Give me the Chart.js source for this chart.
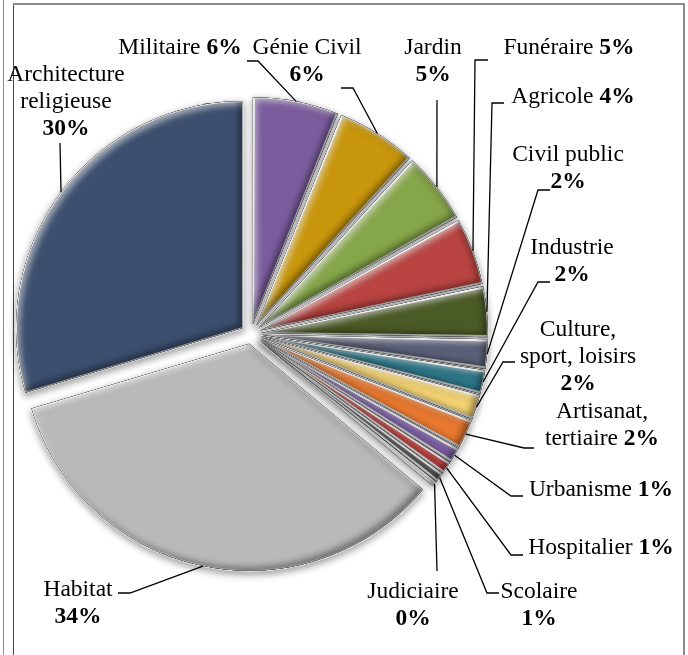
<!DOCTYPE html>
<html>
<head>
<meta charset="utf-8">
<script src="https://cdn.jsdelivr.net/npm/chart.js@4.4.0/dist/chart.umd.min.js"></script>
<style>
  body { margin: 0; background: #fff; }
  #wrap { width: 688px; height: 655px; }
</style>
</head>
<body>
<div id="wrap"><canvas id="chart" width="688" height="655"></canvas></div>
<script>
// data (percent of projects by type), clockwise from 12 o'clock
const categories = [
  "Militaire", "Génie Civil", "Jardin", "Funéraire", "Agricole",
  "Civil public", "Industrie", "Culture, sport, loisirs", "Artisanat, tertiaire",
  "Urbanisme", "Hospitalier", "Scolaire", "Judiciaire", "Habitat",
  "Architecture religieuse"
];
const values = [6.1, 5.7, 5.1, 4.8, 3.6, 2.1, 1.7, 1.8, 2.1, 1.1, 0.9, 0.7, 0.4, 34.3, 29.6];

const colors = [
  "#7b5d9e", "#c9970c", "#86a64a", "#b94441", "#4b5b26",
  "#5b6079", "#2d7688", "#f2d272", "#e8782f", "#7c5fa5",
  "#b83a39", "#4a4a4a", "#d39495", "#b9b9b9", "#3c4f6f"
];

// label layout: centre of first text line, words per line, percent on its own line?,
// leader line points on the label side (slice side comes from the arc)
const labelLayout = [
  { x: 180, y: 48, wrap: [1], pctLine: false, leader: [[258, 61], [247, 61]] },
  { x: 307, y: 48, wrap: [2], pctLine: true, leader: [[353, 88], [341, 88]] },
  { x: 433, y: 48, wrap: [1], pctLine: true, leader: [[437, 100]] },
  { x: 569, y: 48, wrap: [1], pctLine: false, leader: [[475, 60], [488, 60]] },
  { x: 573, y: 97, wrap: [1], pctLine: false, leader: [[492, 103], [504, 103]] },
  { x: 568, y: 155, wrap: [2], pctLine: true, leader: [[538, 190], [550, 190]] },
  { x: 572, y: 248, wrap: [1], pctLine: true, leader: [[538, 282], [550, 282]] },
  { x: 578, y: 330, wrap: [1, 2], pctLine: true, leader: [[503, 362], [515, 362]] },
  { x: 602, y: 412, wrap: [1, 1], pctLine: false, leader: [[524, 448], [534, 448]] },
  { x: 601, y: 490, wrap: [1], pctLine: false, leader: [[511, 496], [523, 496]] },
  { x: 601, y: 548, wrap: [1], pctLine: false, leader: [[511, 555], [523, 555]] },
  { x: 539, y: 592, wrap: [1], pctLine: true, leader: [[487, 593], [499, 593]] },
  { x: 413, y: 592, wrap: [1], pctLine: true, leader: [[437, 571]] },
  { x: 78, y: 590, wrap: [1], pctLine: true, leader: [[130, 593], [118, 593]] },
  { x: 66, y: 75, wrap: [1, 1], pctLine: true, leader: [[60, 143]] }
];

const RADIUS = 227;
const EXPLODE = 40;            // chart.js moves a slice by offset / 4
const FONT = '23.5px "Liberation Serif"';
const BOLD = 'bold 23.5px "Liberation Serif"';
const LINE_H = 27;

const framePlugin = {
  id: "frame",
  beforeDraw(chart) {
    const c = chart.ctx;
    c.save();
    c.fillStyle = "#fff";
    c.fillRect(0, 0, chart.width, chart.height);
    c.strokeStyle = "#8c8c8c";
    c.lineWidth = 1;
    c.beginPath(); c.moveTo(3.5, 0); c.lineTo(3.5, 655); c.stroke();
    c.strokeStyle = "#444";
    c.beginPath(); c.moveTo(13.5, 4); c.lineTo(13.5, 655); c.stroke();
    c.strokeStyle = "#8c8c8c";
    c.lineWidth = 2;
    c.beginPath(); c.moveTo(13, 4); c.lineTo(684, 4); c.lineTo(684, 655); c.stroke();
    c.restore();
  }
};

function slicePath(c, el) {
  const off = EXPLODE / 4;
  const mid = (el.startAngle + el.endAngle) / 2;
  const cx = el.x + Math.cos(mid) * off;
  const cy = el.y + Math.sin(mid) * off;
  c.moveTo(cx, cy);
  c.arc(cx, cy, RADIUS, el.startAngle, el.endAngle);
  c.closePath();
}

function innerShadow(c, el, color, dx, dy, blur) {
  c.save();
  c.beginPath();
  slicePath(c, el);
  c.clip();
  c.beginPath();
  c.rect(-2000, -2000, 5000, 5000);
  slicePath(c, el);
  c.shadowColor = color;
  c.shadowBlur = blur;
  c.shadowOffsetX = dx;
  c.shadowOffsetY = dy;
  c.fillStyle = "#000";
  c.fill("evenodd");
  c.restore();
}

// keep every slice the same drawn radius (chart.js grows small exploded slices)
const radiusFix = {
  id: "radiusFix",
  afterDatasetUpdate(chart, args) {
    const off = EXPLODE / 4;
    args.meta.data.forEach(el => {
      const fix = 1 - Math.sin(Math.min(Math.PI, el.circumference || 0));
      el.outerRadius = RADIUS - off * fix;
    });
  },
  beforeDatasetDraw(chart) {
    const c = chart.ctx;
    c.save();
    c.shadowColor = "rgba(0,0,0,0.35)";
    c.shadowBlur = 7;
    c.shadowOffsetY = 3;
  },
  afterDatasetDraw(chart, args) {
    const c = chart.ctx;
    c.restore();
    // bevel look: light top-left edges, dark bottom-right edges
    args.meta.data.forEach(el => {
      innerShadow(c, el, "rgba(255,255,255,0.55)", 4, 4, 6);
      innerShadow(c, el, "rgba(0,0,0,0.35)", -4, -4, 6);
    });
  }
};

const labelPlugin = {
  id: "labels",
  afterDatasetsDraw(chart) {
    const c = chart.ctx;
    const meta = chart.getDatasetMeta(0);
    const total = values.reduce((a, b) => a + b, 0);
    const off = EXPLODE / 4;
    c.save();
    c.fillStyle = "#000";
    c.strokeStyle = "#000";
    c.lineWidth = 1.3;
    c.textBaseline = "middle";
    meta.data.forEach((el, i) => {
      const L = labelLayout[i];
      const mid = (el.startAngle + el.endAngle) / 2;
      const px = el.x + Math.cos(mid) * (RADIUS + off);
      const py = el.y + Math.sin(mid) * (RADIUS + off);
      // leader
      c.beginPath();
      c.moveTo(px, py);
      L.leader.forEach(p => c.lineTo(p[0], p[1]));
      c.stroke();
      // text lines
      const pct = Math.round(values[i] / total * 100) + "%";
      const words = categories[i].split(" ");
      const lines = [];
      let k = 0;
      L.wrap.forEach(n => { lines.push([{ t: words.slice(k, k + n).join(" "), b: false }]); k += n; });
      if (L.pctLine) lines.push([{ t: pct, b: true }]);
      else lines[lines.length - 1].push({ t: " " }, { t: pct, b: true });
      lines.forEach((segs, j) => {
        let w = 0;
        segs.forEach(s => { c.font = s.b ? BOLD : FONT; s.w = c.measureText(s.t).width; w += s.w; });
        let x = L.x - w / 2;
        segs.forEach(s => {
          c.font = s.b ? BOLD : FONT;
          c.fillText(s.t, x, L.y + j * LINE_H);
          x += s.w;
        });
      });
    });
    c.restore();
  }
};

new Chart(document.getElementById("chart"), {
  type: "pie",
  data: {
    labels: categories,
    datasets: [{
      data: values,
      backgroundColor: colors,
      borderColor: "#e4e4e4",
      borderWidth: 2,
      offset: EXPLODE
    }]
  },
  options: {
    responsive: false,
    animation: false,
    events: [],
    radius: RADIUS,
    layout: { padding: { left: 0, right: 186, top: 13, bottom: 0 } },
    plugins: {
      legend: { display: false },
      tooltip: { enabled: false }
    }
  },
  plugins: [framePlugin, radiusFix, labelPlugin]
});
</script>
</body>
</html>
